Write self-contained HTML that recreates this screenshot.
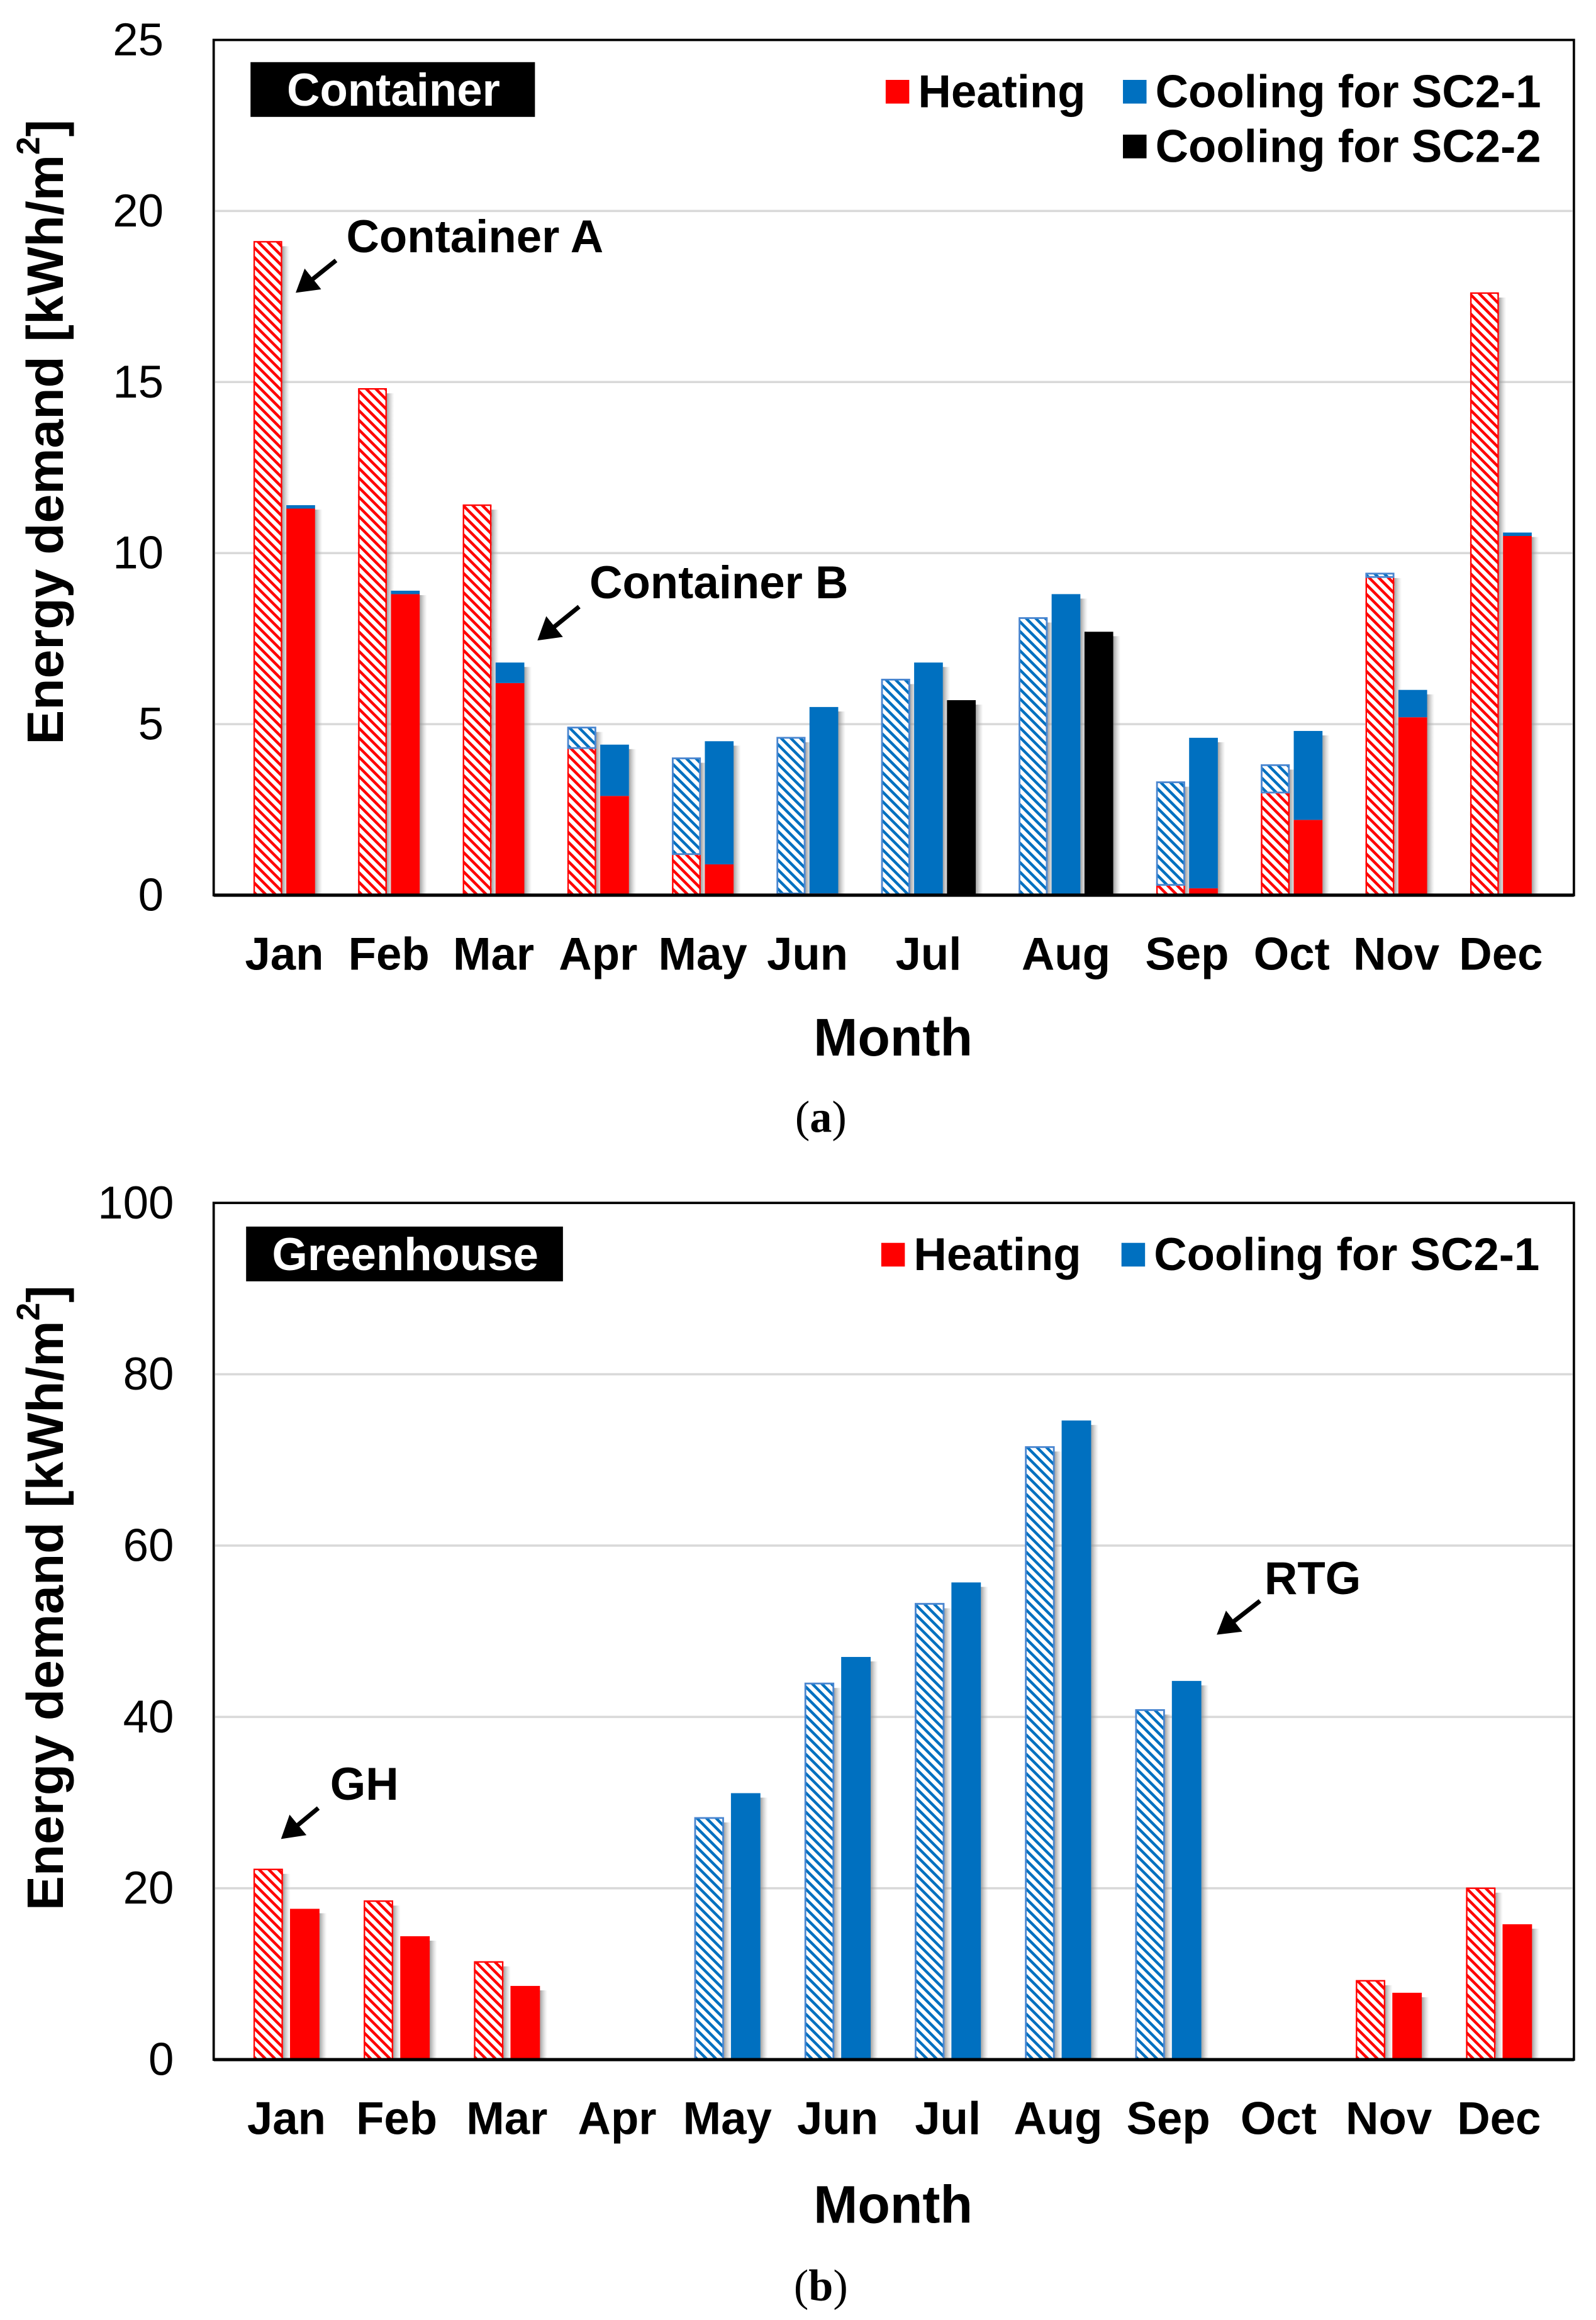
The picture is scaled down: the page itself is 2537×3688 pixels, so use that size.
<!DOCTYPE html>
<html><head><meta charset="utf-8"><style>
html,body{margin:0;padding:0;background:#fff}
svg{display:block}
text{font-family:"Liberation Sans",Arial,sans-serif}
</style></head><body>
<svg id="fig" xmlns="http://www.w3.org/2000/svg" width="2537" height="3688" viewBox="0 0 1083 1568" preserveAspectRatio="none">
<defs>
<pattern id="hatchRed" patternUnits="userSpaceOnUse" width="4.6" height="4.6" patternTransform="rotate(45)"><rect width="4.6" height="4.6" fill="#fff"/><rect width="4.6" height="1.9" fill="#ff0000"/></pattern>
<pattern id="hatchBlue" patternUnits="userSpaceOnUse" width="4.6" height="4.6" patternTransform="rotate(45)"><rect width="4.6" height="4.6" fill="#fff"/><rect width="4.6" height="1.9" fill="#0070c0"/></pattern>
<linearGradient id="shadow" x1="0" x2="1" y1="0" y2="0"><stop offset="0" stop-color="#888" stop-opacity=".8"/><stop offset="1" stop-color="#bbb" stop-opacity="0"/></linearGradient>
<marker id="arrowHead" markerWidth="6" markerHeight="6" refX="4" refY="3" orient="auto" markerUnits="strokeWidth"><path d="M0,0 L5,3 L0,6 Z" fill="#000"/></marker>
</defs>

<!-- Chart A -->
<g id="chartA">
  <rect x="145" y="27" width="923" height="578" fill="#fff" stroke="#000" stroke-width="1.6"/>
  <g id="gridA"></g>
  <g id="barsA"></g>
  <line x1="145" y1="605" x2="1068" y2="605" stroke="#000" stroke-width="2.2"/>
  <g id="ticksA"></g>
  <g id="monthsA"></g>
  <text x="31" y="292" transform="rotate(-90 31 292)" text-anchor="middle" dominant-baseline="central" font-size="35" font-weight="bold">Energy demand [kWh/m<tspan font-size="22" dy="-12">2</tspan><tspan dy="12">]</tspan></text>
  <text x="606" y="701" text-anchor="middle" dominant-baseline="central" font-size="36" font-weight="bold">Month</text>
  <text x="557" y="755" text-anchor="middle" dominant-baseline="central" font-size="30" style="font-family:'Liberation Serif',serif">(<tspan font-weight="bold">a</tspan>)</text>
  <rect x="170" y="42" width="193" height="37" fill="#000"/>
  <text x="267" y="61" text-anchor="middle" dominant-baseline="central" fill="#fff" font-size="31" font-weight="bold">Container</text>
  <g>
    <rect x="601" y="54" width="16" height="16" fill="#ff0000"/>
    <text x="623" y="62" dominant-baseline="central" font-size="31" font-weight="bold">Heating</text>
    <rect x="762" y="54" width="16" height="16" fill="#0070c0"/>
    <text x="784" y="62" dominant-baseline="central" font-size="31" font-weight="bold">Cooling for SC2-1</text>
    <rect x="762" y="91" width="16" height="16" fill="#000"/>
    <text x="784" y="99" dominant-baseline="central" font-size="31" font-weight="bold">Cooling for SC2-2</text>
  </g>
  <text x="235" y="160" dominant-baseline="central" font-size="31" font-weight="bold">Container A</text>
  <line x1="228" y1="176" x2="203" y2="196" stroke="#000" stroke-width="3" marker-end="url(#arrowHead)"/>
  <text x="400" y="394" dominant-baseline="central" font-size="31" font-weight="bold">Container B</text>
  <line x1="393" y1="410" x2="367" y2="431" stroke="#000" stroke-width="3" marker-end="url(#arrowHead)"/>
</g>

<!-- Chart B -->
<g id="chartB">
  <rect x="145" y="813" width="923" height="579" fill="#fff" stroke="#000" stroke-width="1.6"/>
  <g id="gridB"></g>
  <g id="barsB"></g>
  <line x1="145" y1="1392" x2="1068" y2="1392" stroke="#000" stroke-width="2.2"/>
  <g id="ticksB"></g>
  <g id="monthsB"></g>
  <text x="31" y="1080" transform="rotate(-90 31 1080)" text-anchor="middle" dominant-baseline="central" font-size="35" font-weight="bold">Energy demand [kWh/m<tspan font-size="22" dy="-12">2</tspan><tspan dy="12">]</tspan></text>
  <text x="606" y="1490" text-anchor="middle" dominant-baseline="central" font-size="36" font-weight="bold">Month</text>
  <text x="557" y="1545" text-anchor="middle" dominant-baseline="central" font-size="30" style="font-family:'Liberation Serif',serif">(<tspan font-weight="bold">b</tspan>)</text>
  <rect x="167" y="829" width="215" height="37" fill="#000"/>
  <text x="275" y="848" text-anchor="middle" dominant-baseline="central" fill="#fff" font-size="31" font-weight="bold">Greenhouse</text>
  <g>
    <rect x="598" y="840" width="16" height="16" fill="#ff0000"/>
    <text x="620" y="848" dominant-baseline="central" font-size="31" font-weight="bold">Heating</text>
    <rect x="761" y="840" width="16" height="16" fill="#0070c0"/>
    <text x="783" y="848" dominant-baseline="central" font-size="31" font-weight="bold">Cooling for SC2-1</text>
  </g>
  <text x="224" y="1206" dominant-baseline="central" font-size="31" font-weight="bold">GH</text>
  <line x1="216" y1="1222" x2="193" y2="1241" stroke="#000" stroke-width="3" marker-end="url(#arrowHead)"/>
  <text x="858" y="1067" dominant-baseline="central" font-size="31" font-weight="bold">RTG</text>
  <line x1="855" y1="1082" x2="828" y2="1103" stroke="#000" stroke-width="3" marker-end="url(#arrowHead)"/>
</g>
</svg>
<script>
const months = ["Jan","Feb","Mar","Apr","May","Jun","Jul","Aug","Sep","Oct","Nov","Dec"];
// Chart (a) Container
const aHeatA = [19.1,14.8,11.4,4.3,1.2,0.05,0,0,0.3,3.0,9.3,17.6];
const aCoolA = [0,0,0,0.6,2.8,4.55,6.3,8.1,3.0,0.8,0.1,0];
const aHeatB = [11.3,8.8,6.2,2.9,0.9,0.05,0,0,0.2,2.2,5.2,10.5];
const aCoolB = [0.1,0.1,0.6,1.5,3.6,5.45,6.8,8.8,4.4,2.6,0.8,0.1];
const aSC22  = [null,null,null,null,null,null,5.7,7.7,null,null,null,null];
const aTicks = [0,5,10,15,20,25];
// Chart (b) Greenhouse
const bHeatGH  = [22.2,18.5,11.4,0,0,0,0,0,0,0,9.2,20.0];
const bCoolGH  = [0,0,0,0,28.2,43.9,53.2,71.5,40.8,0,0,0];
const bHeatRTG = [17.6,14.4,8.6,0,0,0,0,0,0,0,7.8,15.8];
const bCoolRTG = [0,0,0,0,31.1,47.0,55.7,74.6,44.2,0,0,0];
const bTicks = [0,20,40,60,80,100];

const NS="http://www.w3.org/2000/svg";
function mk(tag, attrs, parent){const e=document.createElementNS(NS,tag);for(const k in attrs)e.setAttribute(k,attrs[k]);parent.appendChild(e);return e;}
const ya = v => 605 - v*578/25;
const yb = v => 1392 - v*579/100;

function drawSeg(g, x, w, y0, y1, fill, name){
  if (y0-y1 <= 0.01) return;
  const r = mk('rect',{x:x,y:y1,width:w,height:y0-y1,fill:fill},g);
  
  
}
function drawShadow(g, x, w, yTop, yBase){
  const s = mk('rect',{x:x+w,y:yTop+3,width:5,height:yBase-yTop-3,fill:'url(#shadow)'},g);
  
  
}
function stack(g, x, w, heat, cool, yf, hatched, label){
  const y0 = yf(0), yh = yf(heat), yt = yf(heat+cool);
  if (heat+cool <= 0) return;
  drawShadow(g, x, w, yt, y0);
  drawSeg(g, x, w, y0, yh, hatched?'url(#hatchRed)':'#ff0000', 'bar-heating-'+label);
  drawSeg(g, x, w, yh, yt, hatched?'url(#hatchBlue)':'#0070c0', 'bar-cooling-'+label);
  if (hatched){
    if (heat>0.01){const o=mk('rect',{x:x+0.5,y:yh,width:w-1,height:y0-yh,fill:'none',stroke:'#ff0000','stroke-width':1},g);
      
      }
    if (cool>0.01){const o=mk('rect',{x:x+0.5,y:yt,width:w-1,height:yh-yt,fill:'none',stroke:'#4a86d0','stroke-width':1.2},g);
      
      }
  }
}

// Chart A
(function(){
  const grid=document.getElementById('gridA'), tk=document.getElementById('ticksA'), mg=document.getElementById('monthsA'), bars=document.getElementById('barsA');
  aTicks.forEach(t=>{
    if(t>0 && t<25){const l=mk('line',{x1:146,x2:1067,y1:ya(t),y2:ya(t),stroke:'#d9d9d9','stroke-width':1.5},grid);
      
      }
    const tx=mk('text',{x:111,y:ya(t),'text-anchor':'end','dominant-baseline':'central','font-size':31},tk);
    tx.textContent=t;
    
    
  });
  const step=22.3, w=19.5, gap=26.4;
  let x=172;
  months.forEach((m,i)=>{
    const n = aSC22[i]!=null ? 3 : 2;
    stack(bars, x, w, aHeatA[i], aCoolA[i], ya, true, 'container-a-'+m);
    stack(bars, x+step, w, aHeatB[i], aCoolB[i], ya, false, 'container-b-'+m);
    if (aSC22[i]!=null){
      drawShadow(bars, x+2*step, w, ya(aSC22[i]), ya(0));
      drawSeg(bars, x+2*step, w, ya(0), ya(aSC22[i]), '#000', 'bar-sc22-'+m);
    }
    const cx = x + (n*step - (step-w))/2;
    const tx=mk('text',{x:cx,y:645,'text-anchor':'middle','dominant-baseline':'central','font-size':31,'font-weight':'bold'},mg);
    tx.textContent=m;
    
    
    x += n*step + gap;
  });
})();

// Chart B
(function(){
  const grid=document.getElementById('gridB'), tk=document.getElementById('ticksB'), mg=document.getElementById('monthsB'), bars=document.getElementById('barsB');
  bTicks.forEach(t=>{
    if(t>0 && t<100){const l=mk('line',{x1:146,x2:1067,y1:yb(t),y2:yb(t),stroke:'#d9d9d9','stroke-width':1.5},grid);
      
      }
    const tx=mk('text',{x:118,y:yb(t),'text-anchor':'end','dominant-baseline':'central','font-size':31},tk);
    tx.textContent=t;
    
    
  });
  const groupStep=74.8, step=24.8, w=20;
  months.forEach((m,i)=>{
    const x = 172 + i*groupStep;
    stack(bars, x, w, bHeatGH[i], bCoolGH[i], yb, true, 'gh-'+m);
    stack(bars, x+step, w, bHeatRTG[i], bCoolRTG[i], yb, false, 'rtg-'+m);
    const tx=mk('text',{x:x+(step+w)/2,y:1432,'text-anchor':'middle','dominant-baseline':'central','font-size':31,'font-weight':'bold'},mg);
    tx.textContent=m;
    
    
  });
})();
</script>
</body></html>
